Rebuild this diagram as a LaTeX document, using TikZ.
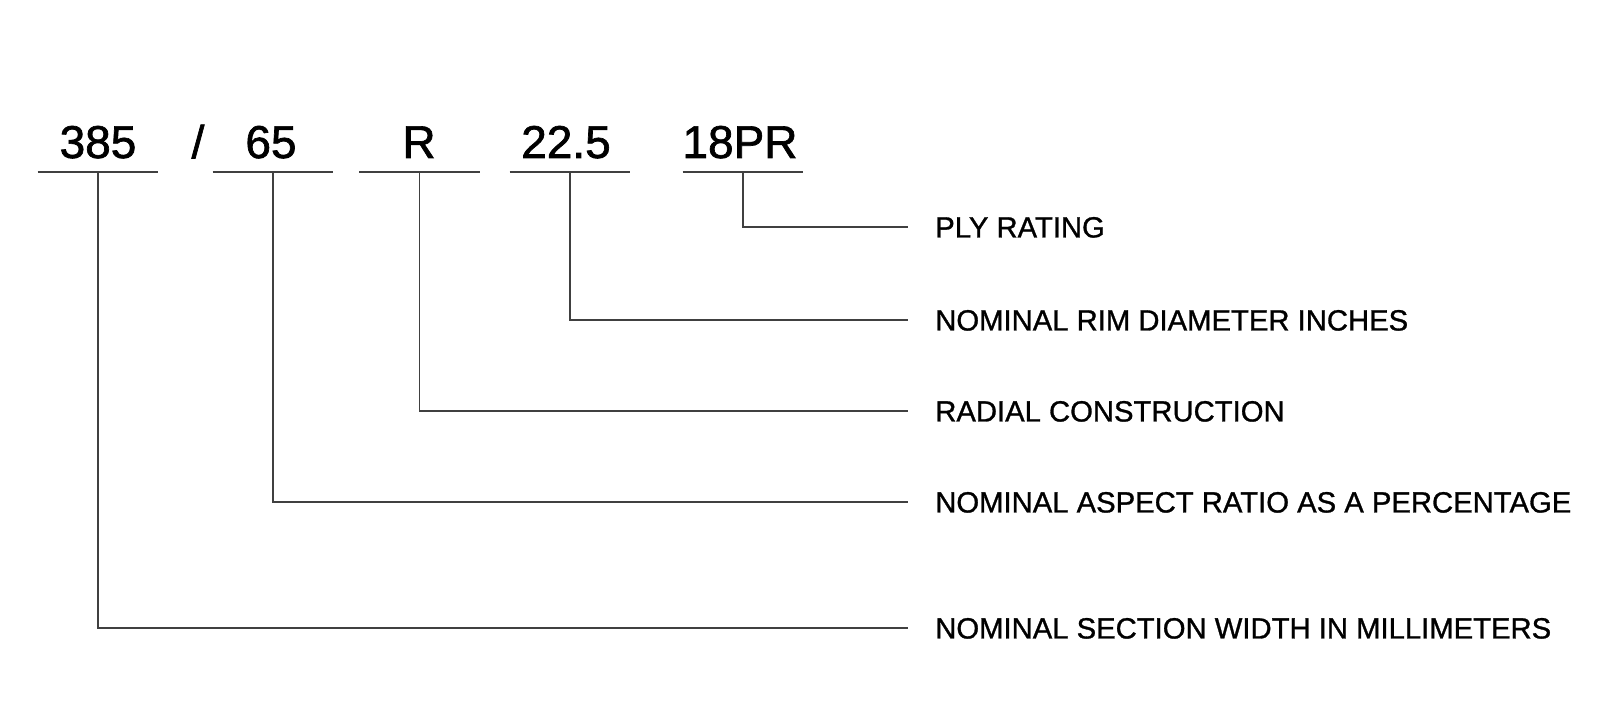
\documentclass[tikz,border=0pt]{standalone}
\usepackage{fontspec}
\setmainfont{Liberation Sans}
\newfontfamily\codefont[FakeBold=1.5]{Liberation Sans}
\newfontfamily\legendefont[FakeBold=1]{Liberation Sans}
\begin{document}
\begin{tikzpicture}[x=0.025cm,y=-0.025cm]
\tikzstyle{code} = [font=\codefont\fontsize{32.7}{36}\selectfont,anchor=base,inner sep=0pt] %marquage
\tikzstyle{souligne} = [minimum width=3cm,minimum height=0pt,inner sep=0pt] %trait sous le marquage
\tikzstyle{legende} = [font=\legendefont\fontsize{20.8}{24}\selectfont,anchor=west,inner ysep=0pt,inner xsep=0.675cm,text height=14.9pt,text depth=0pt]
\tikzstyle{trait} = [line width=1.4pt,color=black!75]

\useasboundingbox (0,0) rectangle (1600,716);

%marquage du pneu
\node[code](n385) at (98,158) {385};
\node[code](barre) at (198,158) {/};
\node[code](n65) at (271,158) {65};
\node[code](nR) at (419,158) {R};
\node[code](n225) at (566,158) {22.5};
\node[code](n18PR) at (740,158) {18PR};

%soulignements
\node[souligne](u385) at (98,172) {};
\node[souligne](u65) at (273,172) {};
\node[souligne](uR) at (419.5,172) {};
\node[souligne](u225) at (570,172) {};
\node[souligne](u18PR) at (743,172) {};
\draw[trait] (u385.west)--(u385.east);
\draw[trait] (u65.west)--(u65.east);
\draw[trait] (uR.west)--(uR.east);
\draw[trait] (u225.west)--(u225.east);
\draw[trait] (u18PR.west)--(u18PR.east);

%legendes
\node[legende](ply) at (908,227) {PLY RATING};
\node[legende](rim) at (908,320) {NOMINAL RIM DIAMETER INCHES};
\node[legende](radial) at (908,411) {RADIAL CONSTRUCTION};
\node[legende](aspect) at (908,502) {NOMINAL ASPECT RATIO AS A PERCENTAGE};
\node[legende](section) at (908,628) {NOMINAL SECTION WIDTH IN MILLIMETERS};

%traits de rappel
\draw[trait] (u18PR.center) |- (ply.west);
\draw[trait] (u225.center) |- (rim.west);
\draw[trait] (uR.center) |- (radial.west);
\draw[trait] (u65.center) |- (aspect.west);
\draw[trait] (u385.center) |- (section.west);
\end{tikzpicture}
\end{document}
